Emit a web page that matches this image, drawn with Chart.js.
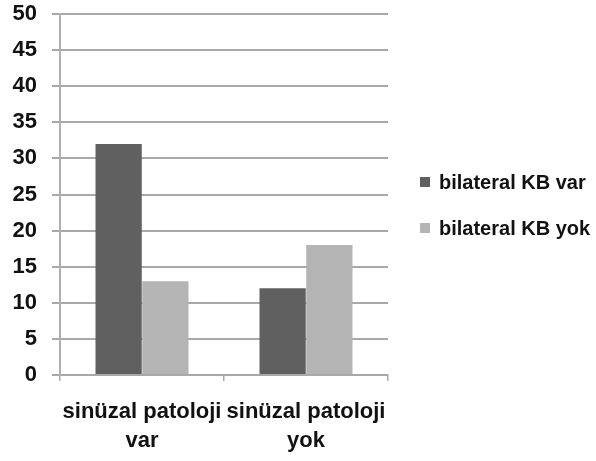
<!DOCTYPE html>
<html>
<head>
<meta charset="utf-8">
<script src="https://cdn.jsdelivr.net/npm/chart.js@4/dist/chart.umd.min.js"></script>
<style>
  html, body { margin: 0; padding: 0; background: #ffffff; }
  #wrap { width: 596px; height: 461px; position: relative; }
</style>
</head>
<body>
<div id="wrap"><canvas id="c"></canvas></div>
<script>
// Categories (two-line tick labels) and the two series
const categories = [['sinüzal patoloji', 'var'], ['sinüzal patoloji', 'yok']];
const seriesNames = ['bilateral KB var', 'bilateral KB yok'];
const kbVar = [32, 12];
const kbYok = [13, 18];
const yMin = 0, yMax = 50, yStep = 5;

const FONT = "'Liberation Sans', Arial, sans-serif";

// Legend on the right, drawn from the dataset labels and colours
const sideLegend = {
  id: 'sideLegend',
  afterDraw(chart) {
    const ctx = chart.ctx;
    const x0 = 420, y0 = 182, gap = 46, box = 10;
    ctx.save();
    ctx.font = `bold 20px ${FONT}`;
    ctx.textBaseline = 'middle';
    ctx.textAlign = 'left';
    chart.data.datasets.forEach((ds, i) => {
      const y = y0 + i * gap;
      ctx.fillStyle = ds.backgroundColor;
      ctx.fillRect(x0, y - box / 2, box, box);
      ctx.fillStyle = '#111111';
      ctx.fillText(ds.label, x0 + 19, y + 1);
    });
    ctx.restore();
  }
};

new Chart(document.getElementById('c'), {
  type: 'bar',
  data: {
    labels: categories,
    datasets: [
      { label: seriesNames[0], data: kbVar, backgroundColor: '#606060', borderWidth: 0 },
      { label: seriesNames[1], data: kbYok, backgroundColor: '#b4b4b4', borderWidth: 0 }
    ]
  },
  plugins: [sideLegend],
  options: {
    responsive: true,
    maintainAspectRatio: false,
    animation: false,
    layout: { padding: { top: 14, right: 208, bottom: 0, left: 0 } },
    datasets: { bar: { categoryPercentage: 0.57, barPercentage: 0.99 } },
    plugins: {
      tooltip: { enabled: false },
      legend: { display: false }
    },
    scales: {
      x: {
        grid: { display: true, drawOnChartArea: false, drawTicks: true, tickLength: 6, color: '#a8a8a8', lineWidth: 1.5 },
        border: { display: true, color: '#a8a8a8', width: 2 },
        ticks: { color: '#111111', padding: 17, maxRotation: 0, autoSkip: false, font: { family: FONT, size: 22, weight: 'bold', lineHeight: 1.3 } },
        afterFit: s => { s.height = 86; s.paddingLeft = 0; s.paddingRight = 0; }
      },
      y: {
        min: yMin, max: yMax,
        grid: { color: '#a8a8a8', lineWidth: 2, tickLength: 8 },
        border: { display: true, color: '#b0b0b0', width: 2 },
        ticks: { stepSize: yStep, color: '#111111', padding: 15, font: { family: FONT, size: 22, weight: 'bold' } },
        afterFit: s => { s.width = 60; s.paddingTop = 0; s.paddingBottom = 0; }
      }
    }
  }
});
</script>
</body>
</html>
